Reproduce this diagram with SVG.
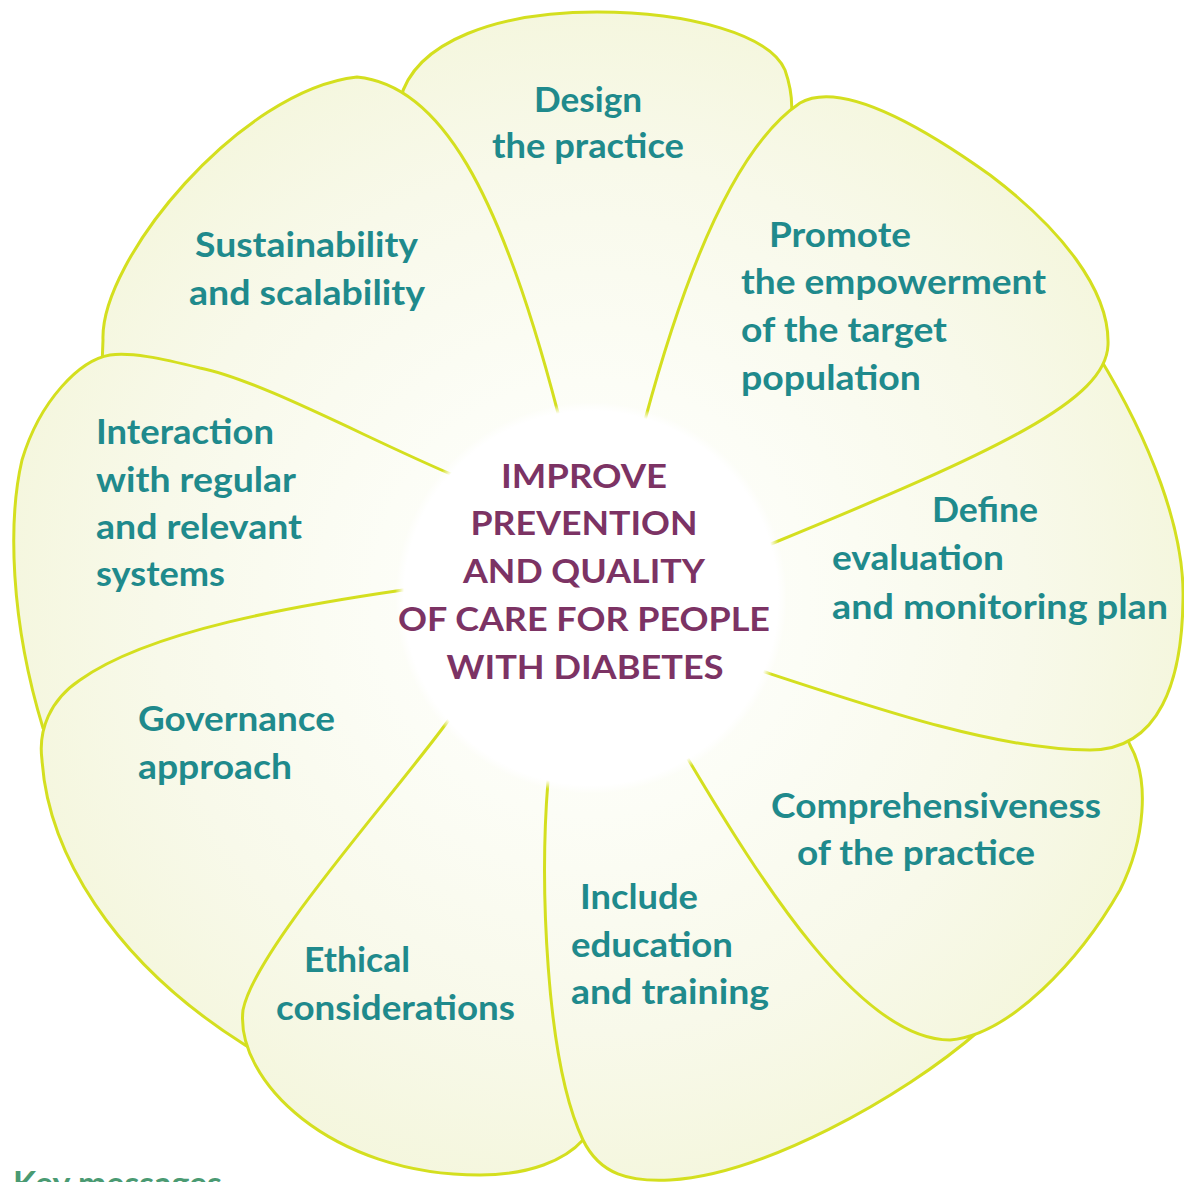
<svg xmlns="http://www.w3.org/2000/svg" width="1184" height="1182" viewBox="0 0 1184 1182">
  <defs>
    <!-- shared petal fill: near-white at the hub, pale yellow at the rim -->
    <radialGradient id="petalFill" gradientUnits="userSpaceOnUse" cx="591" cy="598" r="620">
      <stop offset="0" stop-color="#ffffff"/>
      <stop offset="0.35" stop-color="#fcfdf6"/>
      <stop offset="0.7" stop-color="#f8f9ea"/>
      <stop offset="1" stop-color="#f4f6dc"/>
    </radialGradient>
    <!-- white hub with a soft rim -->
    <radialGradient id="hubFill" gradientUnits="userSpaceOnUse" cx="591" cy="598" r="196">
      <stop offset="0" stop-color="#ffffff" stop-opacity="1"/>
      <stop offset="0.955" stop-color="#ffffff" stop-opacity="1"/>
      <stop offset="1" stop-color="#ffffff" stop-opacity="0"/>
    </radialGradient>
    <style>
      .petal { fill: url(#petalFill); stroke: #d4df1f; stroke-width: 3; stroke-linejoin: round; }
      .lbl { font-family: Lato, "Open Sans", "Liberation Sans", sans-serif; font-weight: 700; font-size: 34px; fill: #1f8a8c; }
      .hubtxt { font-family: Lato, "Open Sans", "Liberation Sans", sans-serif; font-weight: 700; font-size: 33px; fill: #7c3364; text-anchor: middle; }
      .key { font-family: Lato, "Open Sans", "Liberation Sans", sans-serif; font-weight: 700; font-size: 33px; fill: #4a9a72; }
    </style>
  </defs>

  <rect width="1184" height="1182" fill="#ffffff"/>

  <!-- petals, stacked from bottom to top -->
  <g id="design">
    <path class="petal" d="M591,598 L520,440 L470,300 L400,100 C415,40 500,12 597,12 C690,12 770,35 785,70 C792,90 793,110 790,125 L760,250 L700,420 Z"/>
    <text class="lbl" x="534" y="111.5" textLength="108" lengthAdjust="spacingAndGlyphs">Design</text>
    <text class="lbl" x="492" y="157.5" textLength="192" lengthAdjust="spacingAndGlyphs">the practice</text>
  </g>

  <g id="sustainability">
    <path class="petal" d="M591,598 L420,525 L200,435 L101,392 L103,340 C100,260 240,90 357,77 C440,85 500,190 558,413 L580,500 Z"/>
    <text class="lbl" x="195" y="256.5" textLength="223" lengthAdjust="spacingAndGlyphs">Sustainability</text>
    <text class="lbl" x="189" y="305" textLength="236" lengthAdjust="spacingAndGlyphs">and scalability</text>
  </g>

  <g id="interaction">
    <path class="petal" d="M591,598 L453,475 C370,440 260,380 200,368 C160,358 130,352 110,355 C80,360 40,400 22,460 C8,520 10,620 43,728 L60,742 L200,680 L420,640 Z"/>
    <text class="lbl" x="96" y="443.5" textLength="178" lengthAdjust="spacingAndGlyphs">Interaction</text>
    <text class="lbl" x="96" y="491.5" textLength="200" lengthAdjust="spacingAndGlyphs">with regular</text>
    <text class="lbl" x="96" y="539" textLength="206" lengthAdjust="spacingAndGlyphs">and relevant</text>
    <text class="lbl" x="96" y="585.5" textLength="129" lengthAdjust="spacingAndGlyphs">systems</text>
  </g>

  <g id="governance">
    <path class="petal" d="M591,598 L403,590 C300,605 150,630 80,680 C50,700 38,730 42,760 C48,850 110,960 245,1045 L280,1066 L400,900 L480,760 Z"/>
    <text class="lbl" x="138" y="730.5" textLength="197" lengthAdjust="spacingAndGlyphs">Governance</text>
    <text class="lbl" x="138" y="778.5" textLength="154" lengthAdjust="spacingAndGlyphs">approach</text>
  </g>

  <g id="ethical">
    <path class="petal" d="M591,598 L448,721 C390,800 255,950 243,1010 C235,1080 330,1175 480,1175 C530,1175 565,1160 583,1140 L600,1100 L580,900 L570,780 Z"/>
    <text class="lbl" x="304" y="972" textLength="106" lengthAdjust="spacingAndGlyphs">Ethical</text>
    <text class="lbl" x="276" y="1020" textLength="239" lengthAdjust="spacingAndGlyphs">considerations</text>
  </g>

  <g id="education">
    <path class="petal" d="M591,598 L548,781 C540,880 545,1060 583,1140 C600,1175 630,1182 670,1180 C760,1175 900,1100 980,1030 L900,950 L740,790 Z"/>
    <text class="lbl" x="580" y="908.5" textLength="118" lengthAdjust="spacingAndGlyphs">Include</text>
    <text class="lbl" x="571" y="956.5" textLength="162" lengthAdjust="spacingAndGlyphs">education</text>
    <text class="lbl" x="571" y="1003.5" textLength="198" lengthAdjust="spacingAndGlyphs">and training</text>
  </g>

  <g id="comprehensiveness">
    <path class="petal" d="M591,598 L688,759 C760,880 860,1040 950,1040 C1010,1035 1080,960 1120,890 C1145,840 1150,780 1130,745 L1120,722 L1000,715 L790,660 Z"/>
    <text class="lbl" x="771" y="817.5" textLength="330" lengthAdjust="spacingAndGlyphs">Comprehensiveness</text>
    <text class="lbl" x="797" y="865" textLength="238" lengthAdjust="spacingAndGlyphs">of the practice</text>
  </g>

  <g id="evaluation">
    <path class="petal" d="M591,598 L900,470 L1070,380 L1098,355 C1150,440 1185,530 1183,600 C1182,680 1160,750 1090,750 C1000,750 880,710 765,672 Z"/>
    <text class="lbl" x="932" y="521.5" textLength="106" lengthAdjust="spacingAndGlyphs">Define</text>
    <text class="lbl" x="832" y="570" textLength="172" lengthAdjust="spacingAndGlyphs">evaluation</text>
    <text class="lbl" x="832" y="618.5" textLength="336" lengthAdjust="spacingAndGlyphs">and monitoring plan</text>
  </g>

  <g id="empowerment">
    <path class="petal" d="M591,598 L645,420 C680,290 730,150 800,103 C840,80 920,125 990,175 C1060,228 1110,290 1108,345 C1106,400 1000,450 771,544 Z"/>
    <text class="lbl" x="769" y="246.5" textLength="142" lengthAdjust="spacingAndGlyphs">Promote</text>
    <text class="lbl" x="741" y="293.5" textLength="305" lengthAdjust="spacingAndGlyphs">the empowerment</text>
    <text class="lbl" x="741" y="341.5" textLength="206" lengthAdjust="spacingAndGlyphs">of the target</text>
    <text class="lbl" x="741" y="390" textLength="180" lengthAdjust="spacingAndGlyphs">population</text>
  </g>

  <!-- central goal -->
  <g id="goal">
    <circle cx="591" cy="598" r="196" fill="url(#hubFill)"/>
    <text class="hubtxt" x="584" y="487.5" textLength="166" lengthAdjust="spacingAndGlyphs">IMPROVE</text>
    <text class="hubtxt" x="584" y="535" textLength="227" lengthAdjust="spacingAndGlyphs">PREVENTION</text>
    <text class="hubtxt" x="584" y="582.5" textLength="242" lengthAdjust="spacingAndGlyphs">AND QUALITY</text>
    <text class="hubtxt" x="584" y="630.5" textLength="372" lengthAdjust="spacingAndGlyphs">OF CARE FOR PEOPLE</text>
    <text class="hubtxt" x="585" y="678.5" textLength="277" lengthAdjust="spacingAndGlyphs">WITH DIABETES</text>
  </g>

  <!-- heading that runs off the bottom edge -->
  <text class="key" x="13" y="1195" textLength="209" lengthAdjust="spacingAndGlyphs">Key messages</text>
</svg>
